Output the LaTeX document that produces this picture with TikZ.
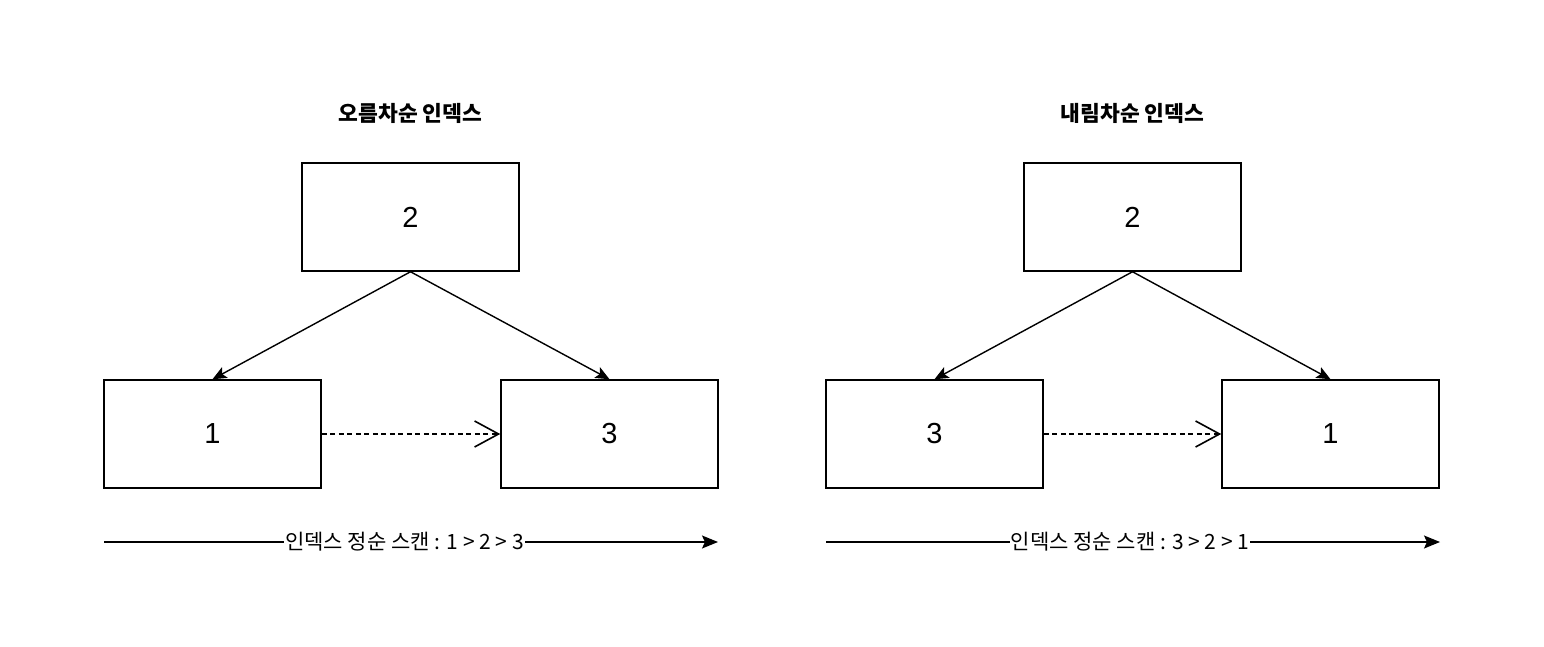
\documentclass[tikz,border=0pt]{standalone}
\usepackage{fontspec}
\setmainfont{Liberation Sans}
\newfontfamily\kr{Noto Sans CJK KR}
\usetikzlibrary{arrows.meta}
\begin{document}
\begin{tikzpicture}[x=1pt,y=1pt,
  box/.style={draw, line width=1.5pt, minimum width=217pt, minimum height=108pt, inner sep=0pt, font=\fontsize{29}{33}\selectfont},
  title/.style={font=\kr\bfseries\fontsize{21.5}{25}\selectfont, inner sep=0pt},
  link/.style={line width=1.4pt, -{Stealth[length=14pt,width=12pt,inset=3pt]}},
  next/.style={line width=1.4pt, dash pattern=on 5pt off 3.5pt, -{Straight Barb[length=24pt,width=26pt,line width=1.6pt]}},
  scan/.style={line width=1.4pt, -{Stealth[length=16pt,width=13pt,inset=3pt]}},
  scanlabel/.style={fill=white, inner sep=1pt, font=\kr\fontsize{21}{25}\selectfont}]
\useasboundingbox (0,0) rectangle (1544,-647);

% ascending index
\node[title] (ta) at (410.5,-113) {오름차순 인덱스};
\node[box] (a2) at (410.5,-217) {2};
\node[box] (a1) at (212.5,-434) {1};
\node[box] (a3) at (609.5,-434) {3};
\draw[link] (a2.south) -- (a1.north);
\draw[link] (a2.south) -- (a3.north);
\draw[next] (a1.east) -- (a3.west);
\coordinate (as) at (104,-542);
\coordinate (ae) at (718,-542);
\draw[scan] (as) -- (ae);
\node[scanlabel] (al) at (404.5,-542) {인덱스 정순 스캔 : 1 \textgreater{} 2 \textgreater{} 3};

% descending index
\node[title] (td) at (1132.5,-113) {내림차순 인덱스};
\node[box] (d2) at (1132.5,-217) {2};
\node[box] (d3) at (934.5,-434) {3};
\node[box] (d1) at (1330.5,-434) {1};
\draw[link] (d2.south) -- (d3.north);
\draw[link] (d2.south) -- (d1.north);
\draw[next] (d3.east) -- (d1.west);
\coordinate (ds) at (826,-542);
\coordinate (de) at (1440,-542);
\draw[scan] (ds) -- (de);
\node[scanlabel] (dl) at (1130,-542) {인덱스 정순 스캔 : 3 \textgreater{} 2 \textgreater{} 1};
\end{tikzpicture}
\end{document}
